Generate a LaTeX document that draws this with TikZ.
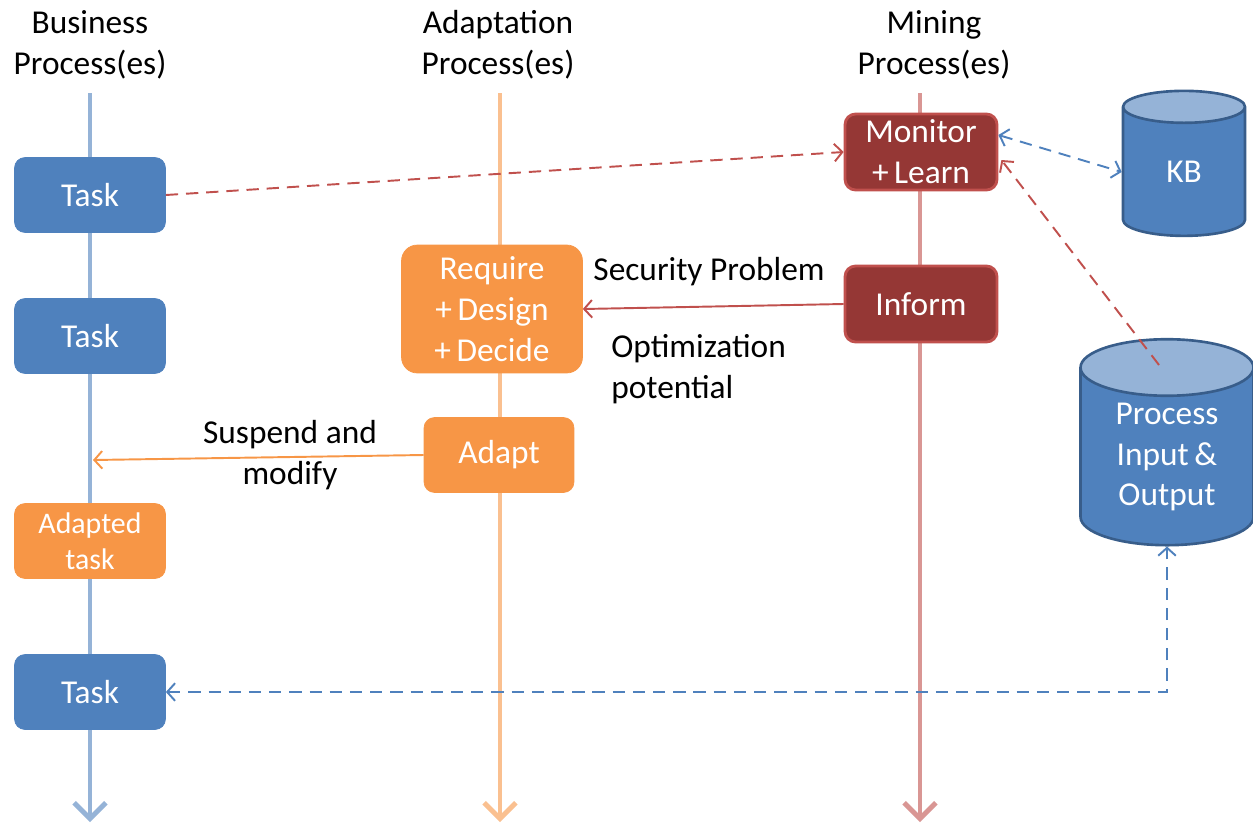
\documentclass[tikz,border=0pt]{standalone}
\usepackage{fontspec}
\setmainfont{Carlito}
\usepackage{tikz}
\usetikzlibrary{positioning}
\usetikzlibrary{shapes.geometric}
\usetikzlibrary{arrows.meta,calc}
\usepackage{xcolor}

\definecolor{bpblue}{HTML}{4F81BD}
\definecolor{bplane}{HTML}{95B3D7}
\definecolor{aporange}{HTML}{F79646}
\definecolor{aplane}{HTML}{FAC090}
\definecolor{mpred}{HTML}{953735}
\definecolor{mpedge}{HTML}{C0504D}
\definecolor{mplane}{HTML}{D99694}
\definecolor{cylrim}{HTML}{385D8A}

\begin{document}
\begin{tikzpicture}[x=0.02cm,y=-0.02cm,
    every node/.style={font=\fontsize{19}{23.3}\selectfont},
    >={Straight Barb[length=4.5pt,width=10pt]},
    lane/.style={line width=2.8pt,-{Straight Barb[length=9pt,width=18pt]}},
    bluebox/.style={rectangle,rounded corners=6pt,fill=bpblue,draw=bpblue,text=white,
        minimum width=3.02cm,minimum height=1.5cm,inner sep=0pt,align=center},
    orangebox/.style={bluebox,fill=aporange,draw=aporange},
    redbox/.style={bluebox,fill=mpred,draw=mpedge,line width=1.6pt,
        minimum width=3.04cm,minimum height=1.52cm},
    store/.style={cylinder,shape border rotate=90,draw=cylrim,line width=1.5pt,
        cylinder uses custom fill,cylinder body fill=bpblue,cylinder end fill=bplane,
        text=white,align=center,inner sep=0pt},
    conn/.style={line width=1.1pt,->},
    dashline/.style={conn,dash pattern=on 7pt off 4.5pt}
]
    \useasboundingbox (0,0) rectangle (1253,825);

    % Headers
    \node[align=center] (bphead) at (90,45) {Business\\Process(es)};
    \node[align=center] (aphead) at (498,45) {Adaptation\\Process(es)};
    \node[align=center] (mphead) at (934,45) {Mining\\Process(es)};

    % Lanes
    \coordinate (btop) at (90,93);  \coordinate (bbot) at (90,822);
    \coordinate (atop) at (500,93); \coordinate (abot) at (500,822);
    \coordinate (mtop) at (920,93); \coordinate (mbot) at (920,822);
    \draw[lane,bplane] (btop) -- (bbot);
    \draw[lane,aplane] (atop) -- (abot);
    \draw[lane,mplane] (mtop) -- (mbot);

    % Business process
    \node[bluebox] (task1) at (90,195) {Task};
    \node[bluebox] (task2) at (90,336) {Task};
    \node[orangebox,font=\fontsize{17}{20.5}\selectfont] (adtask) at (90,541) {Adapted\\task};
    \node[bluebox] (task3) at (90,692) {Task};

    % Adaptation process
    \node[orangebox,minimum width=3.62cm,minimum height=2.56cm,rounded corners=9pt] (req) at (492,309) {Require\\+\,Design\\+\,Decide};
    \node[orangebox,minimum width=3.0cm] (adapt) at (499,455) {Adapt};

    % Mining process
    \node[redbox] (mon) at (921,152) {Monitor\\+\,Learn};
    \node[redbox] (inform) at (921,304) {Inform};

    % Stores
    \node[store,aspect=0.9,minimum width=2.44cm,minimum height=2.9cm] (kb) at (1184,172) {KB};
    \node[store,aspect=0.55,minimum width=3.46cm,minimum height=4.12cm] (proc) at (1167,457) {Process\\Input\,\&\\Output};

    % Connections
    \draw[dashline,mpedge] (task1.east) -- (mon.west);
    \draw[dashline,bpblue,<->] ($(mon.east)+(0,-17)$) -- (kb.west);
    \draw[dashline,mpedge] ($(proc.center)+(-8,-92)$) -- ($(mon.east)+(3,8)$);
    \draw[conn,mpedge] (inform.west) -- (req.east);
    \coordinate (susp) at (93,460);
    \draw[conn,aporange] (adapt.west) -- (susp);
    \draw[dashline,bpblue,<->] (task3.east) -| (proc.south);

    % Labels
    \node (secprob) at (709,272) {Security Problem};
    \node[align=left,anchor=west,inner sep=0pt] (optpot) at (611,369) {Optimization\\potential};
    \node[align=center] (susplbl) at (290,455) {Suspend and\\modify};
\end{tikzpicture}
\end{document}
